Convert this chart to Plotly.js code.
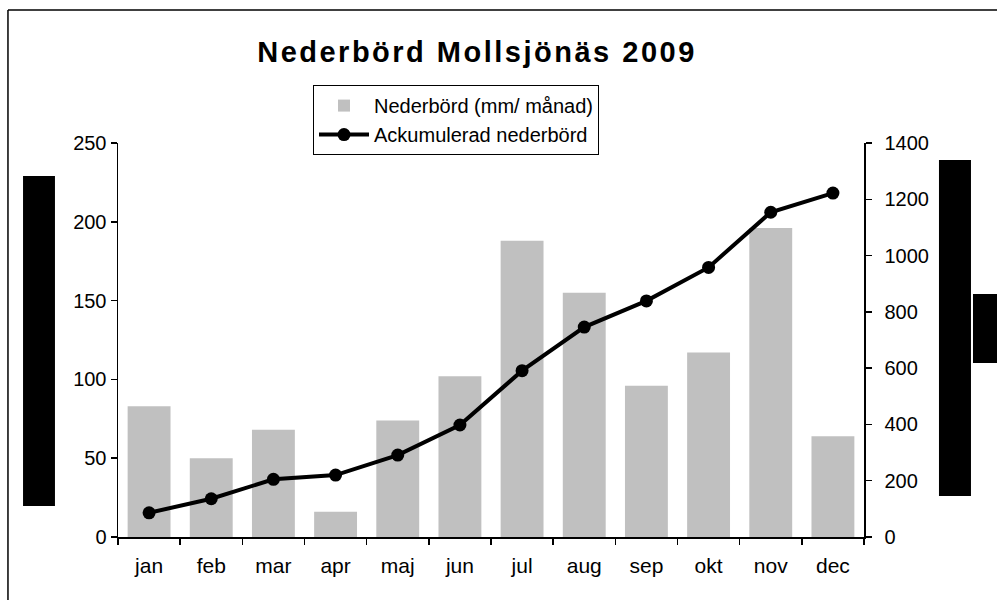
<!DOCTYPE html>
<html>
<head>
<meta charset="utf-8">
<script src="https://cdn.plot.ly/plotly-3.0.1.min.js"></script>
<style>
html,body{margin:0;padding:0;background:#fff;}
#chart{width:997px;height:600px;}
#chart .gtitle{letter-spacing:2.5px;}
</style>
</head>
<body>
<div id="chart"></div>
<script>
var months = ["jan","feb","mar","apr","maj","jun","jul","aug","sep","okt","nov","dec"];
var monthly = [83, 50, 68, 16, 74, 102, 188, 155, 96, 117, 196, 64];
var accumulated = [86, 136, 205, 220, 291, 398, 591, 746, 839, 958, 1154, 1222];
var leftTicks = [0, 50, 100, 150, 200, 250];
var rightTicks = [0, 200, 400, 600, 800, 1000, 1200, 1400];

var FONT = "Liberation Sans, Arial, sans-serif";

var traces = [
  {
    type: "bar",
    name: "Nederbörd (mm/ månad)",
    x: months,
    y: monthly,
    marker: {color: "#c0c0c0", line: {width: 0}},
    yaxis: "y",
    hoverinfo: "x+y"
  },
  {
    type: "scatter",
    mode: "lines+markers",
    name: "Ackumulerad nederbörd",
    x: months,
    y: accumulated,
    yaxis: "y2",
    line: {color: "#000", width: 4},
    marker: {color: "#000", size: 13}
  }
];

var layout = {
  width: 997,
  height: 600,
  margin: {l: 118, r: 133, t: 143, b: 63, pad: 0},
  paper_bgcolor: "#fff",
  plot_bgcolor: "#fff",
  font: {family: FONT, size: 20, color: "#000"},
  bargap: 0.31,
  showlegend: true,
  title: {
    text: "<b>Nederbörd Mollsjönäs 2009</b>",
    font: {family: FONT, size: 29, color: "#000"},
    x: 477/997, xanchor: "center",
    y: 1 - 52/600, yanchor: "middle"
  },
  legend: {
    x: 0.2614, xanchor: "left",
    y: 1.147, yanchor: "top",
    bgcolor: "#fff",
    bordercolor: "#000",
    borderwidth: 1,
    font: {family: FONT, size: 20, color: "#000"},
    tracegroupgap: 0,
    itemwidth: 50
  },
  xaxis: {
    type: "category",
    range: [-0.5, months.length - 0.5],
    autorange: false,
    showline: true, linecolor: "#000", linewidth: 1.5,
    ticks: "outside", ticklen: 6, tickcolor: "#000", tickwidth: 1.5,
    tickson: "boundaries",
    ticklabelstandoff: 9,
    showgrid: false, zeroline: false,
    tickfont: {family: FONT, size: 21, color: "#000"},
    fixedrange: true
  },
  yaxis: {
    range: [0, 250],
    tickvals: leftTicks,
    showline: true, linecolor: "#000", linewidth: 1.5,
    ticks: "outside", ticklen: 6, tickcolor: "#000", tickwidth: 1.5,
    showgrid: false, zeroline: false,
    tickfont: {family: FONT, size: 20, color: "#000"},
    fixedrange: true
  },
  yaxis2: {
    range: [0, 1400],
    tickvals: rightTicks,
    overlaying: "y",
    side: "right",
    showline: true, linecolor: "#000", linewidth: 1.5,
    ticks: "outside", ticklen: 6, tickcolor: "#000", tickwidth: 1.5,
    ticklabelstandoff: 9,
    showgrid: false, zeroline: false,
    tickfont: {family: FONT, size: 20, color: "#000"},
    fixedrange: true
  },
  shapes: [
    {type: "line", xref: "paper", yref: "paper", x0: -0.1475, x1: 1.2, y0: 1.3376, y1: 1.3376, line: {color: "#000", width: 1.5}},
    {type: "line", xref: "paper", yref: "paper", x0: -0.1475, x1: -0.1475, y0: 1.3376, y1: -0.2, line: {color: "#000", width: 1.5}},
    {type: "rect", xref: "paper", yref: "paper", x0: -0.1273, x1: -0.0845, y0: 0.0787, y1: 0.9162, fillcolor: "#000", line: {width: 0}},
    {type: "rect", xref: "paper", yref: "paper", x0: 1.1005, x1: 1.1434, y0: 0.1041, y1: 0.9569, fillcolor: "#000", line: {width: 0}},
    {type: "rect", xref: "paper", yref: "paper", x0: 1.1461, x1: 1.2, y0: 0.4416, y1: 0.6168, fillcolor: "#000", line: {width: 0}}
  ]
};

Plotly.newPlot("chart", traces, layout, {displayModeBar: false, staticPlot: true});
</script>
</body>
</html>
